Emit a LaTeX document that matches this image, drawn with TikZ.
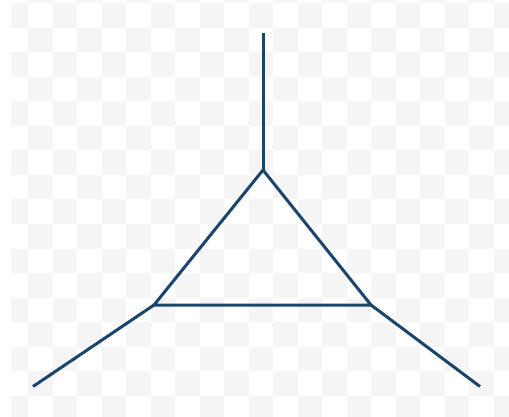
\documentclass[tikz,border=0pt]{standalone}
\definecolor{checker}{RGB}{245,245,245}
\definecolor{navy}{RGB}{28,69,110}
\tikzset{
  edge/.style={draw=navy, line width=3pt},
  cell/.style={fill=checker}
}
\begin{document}
\begin{tikzpicture}[x=1pt,y=-1pt]
  \fill[white] (0,0) rectangle (509,417);
  \useasboundingbox (0,0) rectangle (509,417);
  \begin{scope}
    \clip (11,0) rectangle (509,417);
    \foreach \i in {0,...,20}{
      \foreach \j in {-1,...,16}{
        \pgfmathtruncatemacro\s{mod(\i+\j+2,2)}
        \ifnum\s=0
          \fill[cell] ({3.5+24.5*\i},{3.5+24.5*\j}) rectangle ++(24.5,24.5);
        \fi
      }
    }
  \end{scope}
  \coordinate (top) at (263,33);
  \coordinate (a) at (263,170);
  \coordinate (b) at (154,305);
  \coordinate (c) at (371,305);
  \coordinate (bl) at (33,386.5);
  \coordinate (br) at (480,386.5);
  \draw[edge] (top) -- (a);
  \draw[edge] (b) -- (bl);
  \draw[edge] (c) -- (br);
  \draw[edge, line join=miter] (a) -- (b) -- (c) -- cycle;
\end{tikzpicture}
\end{document}
